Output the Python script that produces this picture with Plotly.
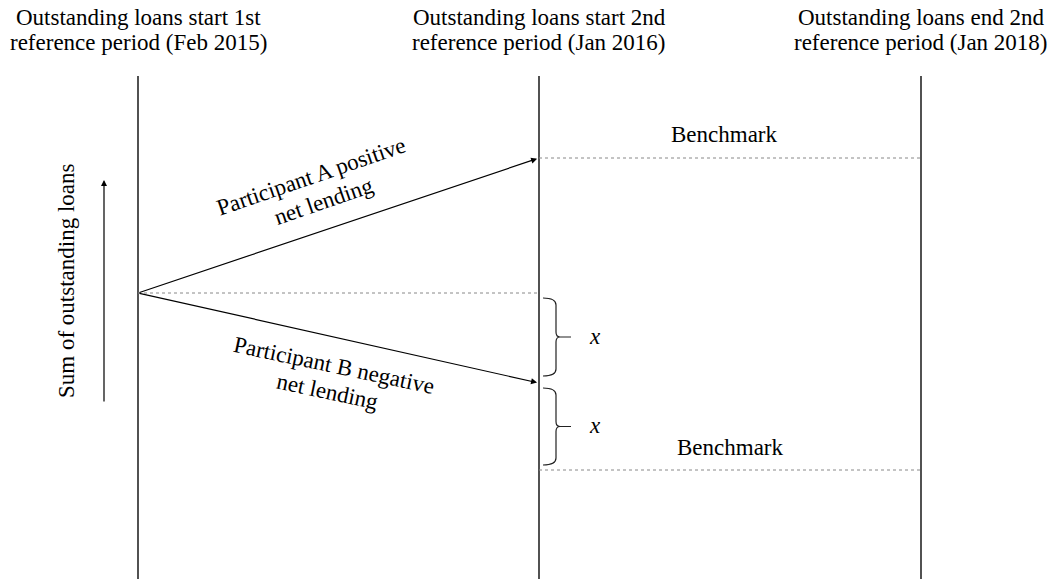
import plotly.graph_objects as go

# Schematic positions (data units) of the three reference dates
period_titles = [
    ("Outstanding loans start 1st", "reference period (Feb 2015)"),
    ("Outstanding loans start 2nd", "reference period (Jan 2016)"),
    ("Outstanding loans end 2nd", "reference period (Jan 2018)"),
]
period_pos = [0, 401, 783]

# Schematic loan levels (data units)
level_start = 0
level_a_end = 135
level_b_end = -90
level_bench_low = -177
level_bench_high = level_a_end

participant_a_lines = ["Participant A positive", "net lending"]
participant_b_lines = ["Participant B negative", "net lending"]
axis_title = "Sum of outstanding loans"
benchmark_label = "Benchmark"
gap_label = "x"

FONT = "Liberation Serif"
FS = 23

fig = go.Figure()

top_level = 217
bottom_level = -290

# vertical reference lines
for p in period_pos:
    fig.add_trace(go.Scatter(x=[p, p], y=[bottom_level, top_level], mode="lines",
                             line=dict(color="#333", width=1.7), hoverinfo="skip", showlegend=False))

# dotted level lines
dot = dict(color="#888", width=1, dash="dot")
fig.add_trace(go.Scatter(x=[period_pos[0], period_pos[1]], y=[level_start, level_start], mode="lines",
                         line=dot, hoverinfo="skip", showlegend=False))
fig.add_trace(go.Scatter(x=[period_pos[1], period_pos[2]], y=[level_bench_high, level_bench_high], mode="lines",
                         line=dot, hoverinfo="skip", showlegend=False))
fig.add_trace(go.Scatter(x=[period_pos[1], period_pos[2]], y=[level_bench_low, level_bench_low], mode="lines",
                         line=dot, hoverinfo="skip", showlegend=False))

# arrows
def arrow(x0, y0, x1, y1, standoff=2):
    fig.add_annotation(x=x1, y=y1, ax=x0, ay=y0, xref="x", yref="y", axref="x", ayref="y",
                       text="", showarrow=True, arrowhead=2, arrowsize=1, arrowwidth=1.2,
                       arrowcolor="#000", standoff=standoff)

arrow(period_pos[0], level_start, period_pos[1], level_a_end)
arrow(period_pos[0], level_start, period_pos[1], level_b_end)
arrow(-34, -110, -34, 113, standoff=0)

def text(x, y, s, angle=0, size=FS):
    fig.add_annotation(x=x, y=y, text=s, showarrow=False, textangle=angle,
                       xref="x", yref="y", font=dict(family=FONT, size=size, color="#000"))

# braces
def brace(top, bot):
    x0 = period_pos[1] + 4
    xv = period_pos[1] + 17
    xt = period_pos[1] + 32
    mid = (top + bot) / 2
    path = (f"M {x0},{top} Q {xv},{top} {xv},{top-7} L {xv},{mid+5} "
            f"Q {xv},{mid} {xv+4},{mid} L {xt},{mid} M {xv+4},{mid} "
            f"Q {xv},{mid} {xv},{mid-5} L {xv},{bot+7} Q {xv},{bot} {x0},{bot}")
    fig.add_shape(type="path", path=path, xref="x", yref="y", line=dict(color="#222", width=1.2))
    text(period_pos[1] + 56, mid + 1, f"<i>{gap_label}</i>")

brace(level_start - 5, level_b_end + 7)
brace(level_b_end - 5, level_bench_low + 5)

# top labels
for (l1, l2), p in zip(period_titles, period_pos):
    text(p, 276, l1)
    text(p, 251, l2)

# Benchmarks
text(586, 159, benchmark_label)
text(592, -154, benchmark_label)

# participant labels
text(173, 117, participant_a_lines[0], angle=-19)
text(185, 92, participant_a_lines[1], angle=-19)
text(196, -72, participant_b_lines[0], angle=12)
text(189, -98, participant_b_lines[1], angle=12)

# y label
text(-72, 12, axis_title, angle=-90)

fig.update_xaxes(range=[-138, 918], visible=False, fixedrange=True)
fig.update_yaxes(range=[-286, 293], visible=False, fixedrange=True)
fig.update_layout(width=1056, height=579, margin=dict(l=0, r=0, t=0, b=0),
                  plot_bgcolor="white", paper_bgcolor="white", showlegend=False,
                  font=dict(family=FONT))

fig.write_html("out.html", post_script="document.body.style.margin='0px';",
               config={"displayModeBar": False})
